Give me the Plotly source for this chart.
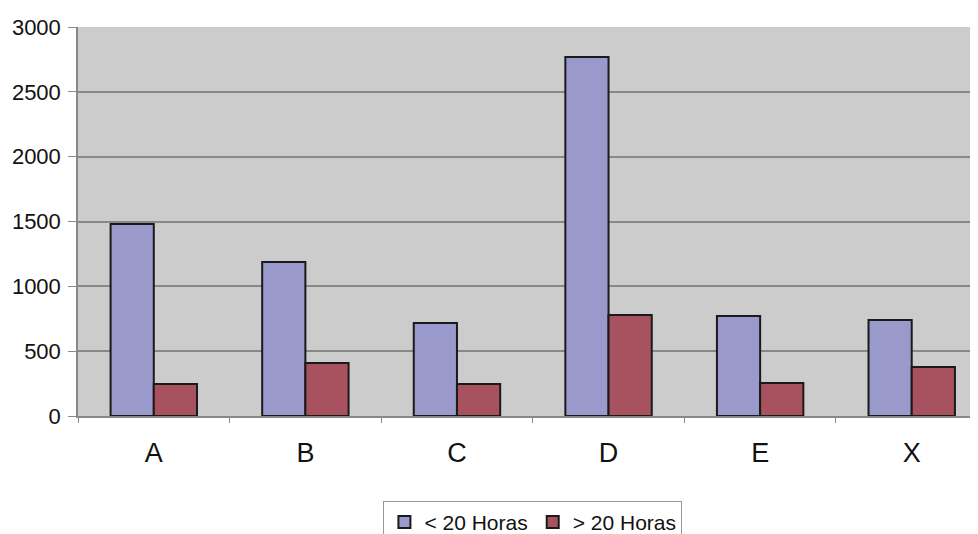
import plotly.graph_objects as go

categories = ["A", "B", "C", "D", "E", "X"]
menos_20 = [1480, 1187, 717, 2768, 771, 740]
mas_20 = [247, 409, 247, 779, 254, 378]

fig = go.Figure()
fig.add_trace(go.Bar(x=categories, y=menos_20, name="< 20 Horas",
                     marker=dict(color="#9999cc", line=dict(color="#1a1a1a", width=2))))
fig.add_trace(go.Bar(x=categories, y=mas_20, name="> 20 Horas",
                     marker=dict(color="#a9525f", line=dict(color="#1a1a1a", width=2))))

# page has an 8px body margin, so the figure is sized to the visible area
fig.update_layout(
    width=978, height=526,
    margin=dict(l=70, r=0, t=19, b=118, autoexpand=False),
    paper_bgcolor="white",
    plot_bgcolor="#cccccc",
    barmode="group",
    bargap=0.43,
    bargroupgap=0,
    font=dict(family="Liberation Sans, Arial", color="#111111"),
    showlegend=True,
    legend=dict(orientation="h", x=0.501, xanchor="center", y=-0.218, yanchor="top",
                bordercolor="#999999", borderwidth=1, bgcolor="white",
                font=dict(size=21), itemwidth=30, tracegroupgap=0),
)
fig.update_yaxes(range=[0, 3000], dtick=500, showgrid=True, gridcolor="#888888", gridwidth=1.5,
                 showline=True, linecolor="#888888", linewidth=1.5,
                 ticks="outside", ticklen=8, tickcolor="#888888",
                 tickfont=dict(size=22), ticklabelstandoff=3, zeroline=False, automargin=False)
# right edge of the original chart is cropped, so the last category is cut short
fig.update_xaxes(range=[-0.5, 5.49], showline=True, linecolor="#888888", linewidth=1.5,
                 ticks="outside", tickson="boundaries", ticklen=5, tickcolor="#888888",
                 tickfont=dict(size=27), ticklabelstandoff=12, automargin=False)

fig.write_html("out.html")
